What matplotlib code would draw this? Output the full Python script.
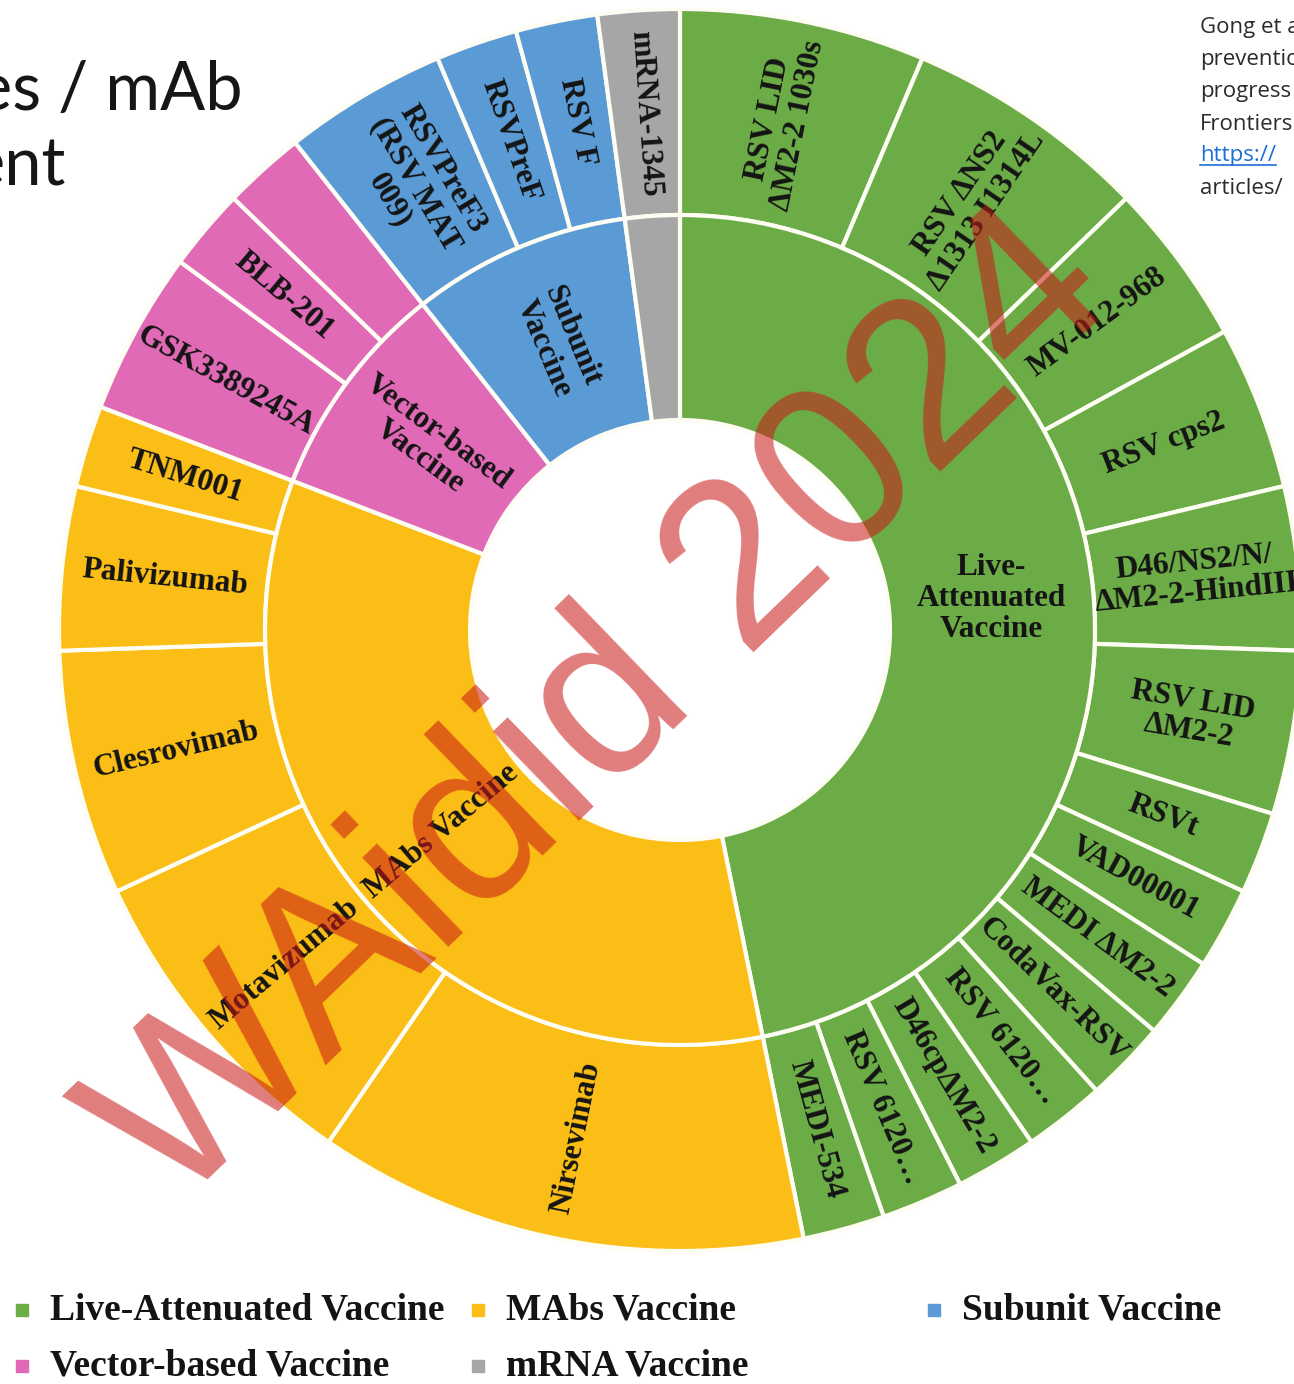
import numpy as np
import matplotlib.pyplot as plt
from matplotlib.patches import Rectangle
from matplotlib.lines import Line2D

# --- data (clockwise from 12 o'clock) ---
group_names = ['Live-Attenuated Vaccine', 'MAbs Vaccine', 'Vector-based Vaccine',
               'Subunit Vaccine', 'mRNA Vaccine']
group_labels = ['Live-\nAttenuated\nVaccine', 'MAbs Vaccine', 'Vector-based\nVaccine',
                'Subunit\nVaccine', '']
group_colors = ['#6cac46', '#fbbe16', '#e06ab6', '#5b9bd5', '#a6a6a6']

live_names = ['RSV LID\nΔM2-2 1030s', 'RSV ΔNS2\nΔ1313 I1314L', 'MV-012-968', 'RSV cps2',
              'D46/NS2/N/\nΔM2-2-HindIII', 'RSV LID\nΔM2-2', 'RSVt', 'VAD00001',
              'MEDI ΔM2-2', 'CodaVax-RSV', 'RSV 6120…', 'D46cpΔM2-2', 'RSV 6120…', 'MEDI-534']
live_vals = [3, 3, 2, 2, 2, 2, 1, 1, 1, 1, 1, 1, 1, 1]
mab_names = ['Nirsevimab', 'Motavizumab', 'Clesrovimab', 'Palivizumab', 'TNM001']
mab_vals = [6, 4, 3, 2, 1]
vector_names = ['GSK3389245A', 'BLB-201', '']
vector_vals = [2, 1, 1]
subunit_names = ['RSVPreF3\n(RSV MAT\n009)', 'RSVPreF', 'RSV F']
subunit_vals = [2, 1, 1]
mrna_names = ['mRNA-1345']
mrna_vals = [1]

# --- layout (pixels, y from top) ---
W, H = 1294, 1384
CX, CY = 680, 630
R_OUT, R_MID, R_IN = 621, 415, 210
EDGE = '#fdfdf4'
SERIF = 'Liberation Serif'


def py(y):
    return H - y


groups = [live_vals, mab_vals, vector_vals, subunit_vals, mrna_vals]
outer_vals = sum(groups, [])
outer_names = live_names + mab_names + vector_names + subunit_names + mrna_names
outer_cols = sum([[c] * len(g) for c, g in zip(group_colors, groups)], [])
inner_vals = [sum(g) for g in groups]

fig = plt.figure(figsize=(W / 100, H / 100), dpi=100)
ax = fig.add_axes([0, 0, 1, 1])

ax.pie(outer_vals, radius=R_OUT, center=(CX, py(CY)), startangle=90, counterclock=False,
       colors=outer_cols, wedgeprops=dict(width=R_OUT - R_MID, edgecolor=EDGE, linewidth=3))
ax.pie(inner_vals, radius=R_MID, center=(CX, py(CY)), startangle=90, counterclock=False,
       colors=group_colors, wedgeprops=dict(width=R_MID - R_IN, edgecolor=EDGE, linewidth=3))
ax.set_xlim(0, W)
ax.set_ylim(0, H)
ax.set_aspect('equal')
ax.axis('off')


def label_ring(vals, names, r, fixed=None):
    edges = np.concatenate([[0], np.cumsum(vals)]) / sum(vals) * 360
    mids = (edges[:-1] + edges[1:]) / 2
    for i, (name, th) in enumerate(zip(names, mids)):
        if not name:
            continue
        t = np.deg2rad(th)
        x = CX + r * np.sin(t)
        y = py(CY - r * np.cos(t))
        rot = 90 - th if th < 180 else 270 - th
        if fixed is not None and fixed[i] is not None:
            rot = fixed[i]
        ax.text(x, y, name, rotation=rot, rotation_mode='anchor', ha='center', va='center',
                multialignment='center', linespacing=1.08, fontsize=22.5,
                family=SERIF, weight='bold', color='#141414', zorder=5)


label_ring(outer_vals, outer_names, (R_OUT + R_MID) / 2)
label_ring(inner_vals, group_labels, (R_MID + R_IN) / 2, fixed=[0, None, None, None, None])

# watermark
ax.text(605, py(712), 'WAidid 2024', rotation=44, rotation_mode='anchor', ha='center',
        va='center', fontsize=168, family='Liberation Sans', color='#c91717', alpha=0.56,
        zorder=10)

# legend
legend_pos = [(16, 1310), (472, 1310), (16, 1366), (928, 1310), (472, 1366)]
for name, col, (lx, ly) in zip(group_names, group_colors, legend_pos):
    ax.add_patch(Rectangle((lx, py(ly) - 6), 12, 12, color=col, zorder=5))
    ax.text(lx + 34, py(ly), name, ha='left', va='center', fontsize=27,
            family=SERIF, weight='bold', color='#141414')

# slide title fragments
ax.text(243, py(110), 'es / mAb', ha='right', va='baseline', fontsize=48,
        family='Lato', color='#161616')
ax.text(66, py(185), 'ent', ha='right', va='baseline', fontsize=48,
        family='Lato', color='#161616')

# citation fragment (top right)
cite_lines = ['Gong et al.', 'prevention', 'progress', 'Frontiers', 'https://', 'articles/']
link = None
for i, line in enumerate(cite_lines):
    col = '#1a6fd6' if line.startswith('http') else '#2b2b2b'
    t = ax.text(1200, py(28 + 32 * i), line, ha='left', va='center', fontsize=16,
                family='Open Sans', color=col)
    if line.startswith('http'):
        link = t

fig.canvas.draw()
bb = link.get_window_extent()
ax.add_line(Line2D([bb.x0, bb.x1], [bb.y0 + 2, bb.y0 + 2], color='#1a6fd6', lw=1.2))

fig.savefig('out.png', dpi=100)
